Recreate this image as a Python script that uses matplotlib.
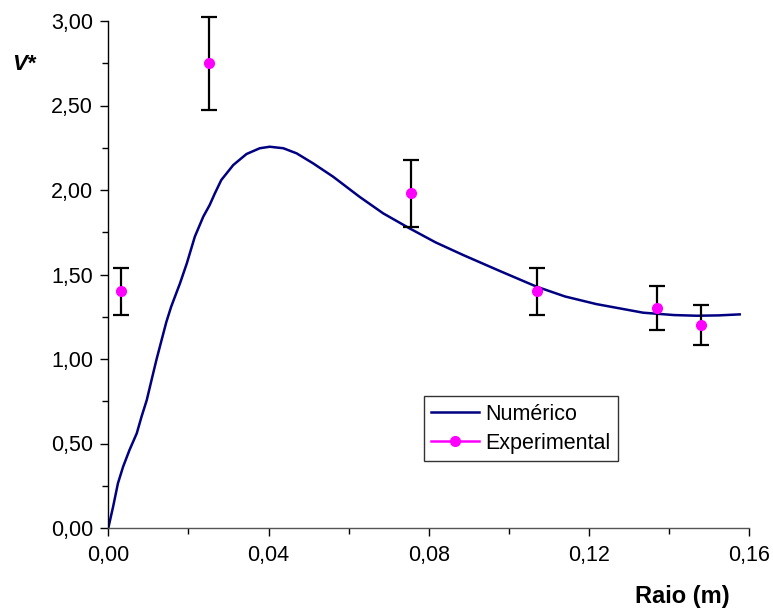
import matplotlib
matplotlib.use("Agg")
import matplotlib.pyplot as plt
from matplotlib.ticker import FuncFormatter, MultipleLocator

plt.rcParams['font.family'] = ['Liberation Sans', 'DejaVu Sans']

# Numerical curve
num_x = [0.0, 0.0012, 0.0024, 0.0037, 0.0053, 0.0071, 0.0083, 0.0096, 0.0108, 0.0120,
         0.0133, 0.0145, 0.0157, 0.0179, 0.0196, 0.0216, 0.0237, 0.0253, 0.0266, 0.0282,
         0.0312, 0.0345, 0.0378, 0.0403, 0.0437, 0.0470, 0.0511, 0.0561, 0.0627, 0.0686,
         0.0752, 0.0817, 0.0886, 0.0978, 0.1069, 0.1140, 0.1218, 0.1335, 0.1412, 0.1469,
         0.1523, 0.1576]
num_y = [0.0, 0.126, 0.264, 0.363, 0.462, 0.560, 0.659, 0.757, 0.876, 0.994,
         1.112, 1.220, 1.310, 1.448, 1.566, 1.724, 1.842, 1.911, 1.980, 2.059,
         2.148, 2.213, 2.247, 2.256, 2.247, 2.217, 2.158, 2.079, 1.960, 1.862,
         1.773, 1.690, 1.615, 1.520, 1.428, 1.370, 1.325, 1.274, 1.260, 1.256,
         1.258, 1.264]

# Experimental points
exp_x = [0.0032, 0.0251, 0.0755, 0.107, 0.137, 0.148]
exp_y = [1.40, 2.75, 1.98, 1.40, 1.30, 1.20]
exp_err = [0.14, 0.275, 0.198, 0.14, 0.13, 0.12]

fig = plt.figure(figsize=(7.73, 6.10), dpi=100)
ax = fig.add_axes([108.3 / 773, (610 - 528) / 610, (749.3 - 108.3) / 773, (528 - 21) / 610])

ax.plot(num_x, num_y, color='#000080', lw=1.8, label='Numérico', zorder=2,
        solid_joinstyle='round')
eb = ax.errorbar(exp_x, exp_y, yerr=exp_err, fmt='none', ecolor='black', elinewidth=1.6,
                 capsize=6, capthick=1.6, zorder=3)
for artist in eb.lines[1] + eb.lines[2]:
    artist.set_clip_on(False)
ax.plot(exp_x, exp_y, color='#FF00FF', marker='o', markersize=7, lw=1.8, linestyle='none',
        zorder=4, clip_on=False)
ax.plot([], [], color='#FF00FF', marker='o', markersize=7, lw=1.8, label='Experimental')

ax.set_xlim(0, 0.16)
ax.set_ylim(0, 3.0)
ax.xaxis.set_major_locator(MultipleLocator(0.04))
ax.xaxis.set_minor_locator(MultipleLocator(0.02))
ax.yaxis.set_major_locator(MultipleLocator(0.5))
ax.yaxis.set_minor_locator(MultipleLocator(0.25))
ax.xaxis.set_major_formatter(FuncFormatter(lambda v, p: f"{v:.2f}".replace('.', ',')))
ax.yaxis.set_major_formatter(FuncFormatter(lambda v, p: f"{v:.2f}".replace('.', ',')))
ax.tick_params(axis='both', which='major', direction='out', length=6, width=1, labelsize=15.5)
ax.tick_params(axis='x', which='major', pad=6)
ax.tick_params(axis='y', which='major', pad=5)
ax.tick_params(axis='both', which='minor', direction='out', length=4, width=1)

for s in ['top', 'right']:
    ax.spines[s].set_visible(False)
ax.spines['left'].set_linewidth(1)
ax.spines['bottom'].set_linewidth(1)
ax.spines['bottom'].set_color('#555555')
ax.spines['left'].set_color('black')

fig.text(730 / 773, 1 - 597 / 610, 'Raio (m)', ha='right', va='center', fontsize=17, fontweight='bold')
fig.text(24 / 773, 1 - 65 / 610, 'V*', ha='center', va='center', fontsize=16, fontweight='bold', style='italic')

leg = ax.legend(loc='lower left', bbox_to_anchor=(0.492, 0.132), frameon=True, fancybox=False,
                edgecolor='black', fontsize=15.5, borderpad=0.35, handlelength=2.2,
                labelspacing=0.35, handletextpad=0.3, borderaxespad=0)
leg.get_frame().set_linewidth(1)

fig.savefig('out.png', dpi=100)
